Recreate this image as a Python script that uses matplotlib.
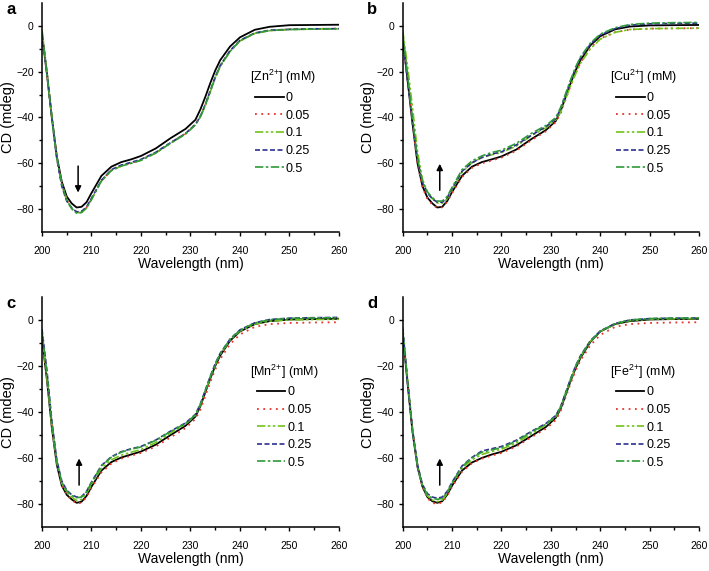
import matplotlib
matplotlib.use("Agg")
import matplotlib.pyplot as plt
from matplotlib.ticker import MultipleLocator

plt.rcParams['font.family'] = ['Liberation Sans', 'DejaVu Sans']
plt.rcParams['mathtext.fontset'] = 'custom'
plt.rcParams['mathtext.rm'] = 'Liberation Sans'

# wavelength grid (nm)
wl = [200, 201, 202, 203, 204, 205, 206, 207, 208, 209, 210, 212, 214, 216, 218, 220,
      223, 226, 229, 231, 232, 233, 234, 235, 236, 238, 240, 243, 246, 250, 255, 260]

conc = ['0', '0.05', '0.1', '0.25', '0.5']

# a: Zn2+
zn_0 = [-3.5, -21, -40, -57, -68, -74.5, -77.5, -79.3, -79, -77, -73, -65.5, -61.5, -59.5, -58.3, -56.8,
        -53.5, -49, -45, -41, -36.5, -31, -25, -19.5, -15, -9, -5, -1.7, -0.4, 0.3, 0.4, 0.5]
zn_005 = [-3, -21, -40.5, -57.5, -69, -76, -79.5, -81.3, -81.2, -79.3, -75.5, -67.5, -63, -61, -59.8, -58.5,
          -55.3, -51, -47, -43, -39.5, -34.5, -28.5, -22.5, -17.5, -11, -6.5, -3.2, -2, -1.5, -1.3, -1.2]
zn_01 = [-1.5, -20, -40, -57.5, -69, -76, -79.8, -81.6, -81.4, -79.5, -75.8, -67.8, -63.2, -61.2, -60, -58.7,
         -55.5, -51.2, -47.2, -43.2, -39.8, -34.8, -28.8, -22.8, -17.8, -11.2, -6.6, -3.3, -2.1, -1.6, -1.4, -1.3]
zn_025 = [-4, -20, -40.5, -58, -70, -76.5, -79.5, -81.2, -81, -79, -75.3, -67.5, -62.8, -60.8, -59.6, -58.3,
          -55.2, -51, -47, -43, -39.5, -34.3, -28.3, -22.3, -17.3, -10.8, -6.3, -3.1, -1.9, -1.5, -1.3, -1.2]
zn_05 = [-2.5, -21, -40, -57.5, -69, -76, -79.8, -81.8, -81.5, -79.6, -75.8, -67.7, -63.2, -61.2, -60, -58.7,
         -55.5, -51.2, -47.2, -43.2, -39.6, -34.6, -28.6, -22.6, -17.6, -11.1, -6.5, -3.2, -2, -1.6, -1.4, -1.3]

# b: Cu2+
cu_0 = [-5, -24, -43, -60, -70, -75, -77.5, -79.3, -79, -76.5, -72.5, -65.5, -61.5, -59.5, -58.3, -57,
        -54, -49.5, -45.5, -41.5, -37, -31, -25, -19.5, -15, -8.5, -4.5, -1.5, -0.3, 0.2, 0.3, 0.4]
cu_005 = [-4, -23, -43, -60, -70.5, -75.5, -78, -79.5, -79.2, -76.8, -73, -66, -62, -60, -58.8, -57.5,
          -54.5, -50, -46, -42, -38, -32, -26, -20.5, -16, -9.5, -5.5, -2.8, -1.6, -1.2, -1.1, -1.0]
cu_01 = [-2, -18, -36, -55, -67, -72.5, -75.5, -77.3, -77.5, -75.5, -71.5, -64, -59.8, -57.5, -56.3, -55.3,
         -52.5, -48, -44.5, -41, -37.5, -31.8, -26, -21, -16.3, -10, -5.8, -2.8, -1.6, -1.2, -1.1, -1.0]
cu_025 = [-6, -24, -42, -58.5, -68.5, -73, -75.5, -77, -77, -75, -71, -63.5, -59.8, -57.5, -56, -55,
          -52, -47.8, -44, -40.5, -36, -30, -24, -18.5, -14, -8, -4, -1.2, 0.3, 0.9, 1.1, 1.2]
cu_05 = [-3, -22, -41, -58, -68, -72.5, -75, -76.5, -76.5, -74.5, -70.5, -62.8, -59, -56.8, -55.3, -54.3,
         -51.3, -47, -43.5, -40, -35.5, -29.5, -23.5, -18, -13.5, -7.5, -3.6, -0.8, 0.6, 1.2, 1.4, 1.5]

# c: Mn2+
mn_0 = [-8, -26, -47, -63, -72, -76, -78, -79.5, -79, -76.5, -72.5, -65.5, -61.8, -59.8, -58.5, -57.2,
        -54.2, -50, -46, -42, -37.5, -31.5, -25.5, -20, -15.5, -9, -5, -1.8, -0.5, 0.2, 0.4, 0.5]
mn_005 = [-7, -25, -46, -62, -71.5, -76, -78.3, -79.8, -79.5, -77, -73, -66.3, -62.5, -60.3, -59, -57.8,
          -55, -51, -47, -43, -39, -33, -27, -21.5, -17, -10.5, -6.3, -3, -1.8, -1.3, -1.1, -1.0]
mn_01 = [-6, -25, -46, -62, -71, -75, -77, -78.5, -78, -75.5, -71.5, -64.5, -60.8, -58.8, -57.5, -56.3,
         -53.3, -49.2, -45.3, -41.5, -37, -31, -25, -19.5, -15, -8.7, -4.8, -1.8, -0.5, 0, 0.2, 0.3]
mn_025 = [-4, -22, -44, -61, -70, -74, -76, -77, -76.8, -74.5, -70.5, -63.3, -59.5, -57.3, -56, -55,
          -52.2, -48.3, -44.8, -41, -36.5, -30.5, -24.5, -19, -14.5, -8.3, -4.3, -1.2, 0.2, 0.8, 1, 1.1]
mn_05 = [-5, -23, -45, -61.5, -70.5, -74.3, -76.3, -77.3, -77, -74.7, -70.7, -63.5, -59.7, -57.5, -56.2, -55.2,
         -52.3, -48.5, -45, -41.2, -36.7, -30.7, -24.7, -19.2, -14.7, -8.4, -4.4, -1.3, 0.1, 0.7, 0.9, 1.0]

# d: Fe2+
fe_0 = [-6, -28, -49, -64, -72.5, -77, -78.8, -79.5, -78.8, -76, -72, -65.5, -62, -60, -58.5, -57.3,
        -54.5, -50.5, -46.5, -42.5, -38.5, -32.5, -26.5, -21, -16.5, -9.5, -5, -1.8, -0.5, 0.2, 0.4, 0.5]
fe_005 = [-5, -27, -48, -63.5, -72.5, -77.5, -79.5, -80, -79.3, -76.5, -72.5, -66, -62.3, -60.3, -59, -57.8,
          -55, -51, -47.3, -43.5, -39.5, -33.5, -27.5, -22, -17.5, -11, -6.5, -3, -1.8, -1.3, -1.1, -1.0]
fe_01 = [-3, -26, -48, -63.5, -72, -76.5, -78.3, -79, -78.3, -75.5, -71, -64.5, -60.8, -58.5, -57.2, -56.2,
         -53.5, -49.5, -45.7, -42, -38, -32, -26, -20.5, -16, -9.3, -5, -1.8, -0.3, 0.3, 0.5, 0.6]
fe_025 = [-4, -27, -48, -63, -71.5, -75.5, -77, -77.5, -77, -74.5, -70.5, -63.5, -59.8, -57, -56, -55,
          -52.3, -48.5, -45, -41.5, -37.5, -31.5, -25.5, -20, -15.5, -9, -4.8, -1.5, 0, 0.6, 0.8, 0.9]
fe_05 = [-5, -27, -48.5, -63.5, -72, -76, -77.5, -78, -77.5, -75, -70.8, -63.8, -60, -57.5, -56.5, -55.5,
         -52.7, -48.8, -45.3, -41.7, -37.7, -31.7, -25.7, -20.2, -15.7, -9.2, -4.9, -1.6, 0, 0.6, 0.8, 0.9]

# line look for each concentration
colors = ['black', '#e8342c', '#72c21b', '#2f2f8f', '#2f9a3a']
styles = ['-', (0, (1, 2.5)), (0, (5, 1.5, 1.5, 1.5, 1.5, 1.5)), (0, (3, 1.5)), (0, (5, 1.5, 1.5, 1.5))]
widths = [1.3, 1.3, 1.2, 1.2, 1.2]

panels = [
    ('a', 'Zn', [zn_0, zn_005, zn_01, zn_025, zn_05], 'down'),
    ('b', 'Cu', [cu_0, cu_005, cu_01, cu_025, cu_05], 'up'),
    ('c', 'Mn', [mn_0, mn_005, mn_01, mn_025, mn_05], 'up'),
    ('d', 'Fe', [fe_0, fe_005, fe_01, fe_025, fe_05], 'up'),
]

positions = [
    [0.0592, 0.5937, 0.4189, 0.4011],
    [0.5680, 0.5937, 0.4180, 0.4011],
    [0.0592, 0.0771, 0.4189, 0.4028],
    [0.5680, 0.0771, 0.4180, 0.4028],
]

fig = plt.figure(figsize=(7.09, 5.71), dpi=100)

for (letter, ion, series, direction), pos in zip(panels, positions):
    ax = fig.add_axes(pos)
    for i in range(5):
        ax.plot(wl, series[i], color=colors[i], linestyle=styles[i], lw=widths[i], label=conc[i])

    ax.set_xlim(200, 260)
    ax.set_ylim(-90, 10)
    ax.xaxis.set_major_locator(MultipleLocator(10))
    ax.xaxis.set_minor_locator(MultipleLocator(5))
    ax.set_yticks([-80, -60, -40, -20, 0])
    ax.set_yticks([-70, -50, -30, -10], minor=True)
    ax.tick_params(which='major', direction='out', length=3, width=1, labelsize=7.5)
    ax.tick_params(axis='x', which='major', pad=7)
    ax.tick_params(axis='y', which='major', pad=3)
    ax.tick_params(which='minor', direction='out', length=2, width=1)
    for s in ['top', 'right']:
        ax.spines[s].set_visible(False)
    for s in ['left', 'bottom']:
        ax.spines[s].set_linewidth(1.1)

    ax.set_xlabel('Wavelength (nm)', fontsize=10, labelpad=1)
    ax.set_ylabel('CD (mdeg)', fontsize=10.5)
    ax.yaxis.set_label_coords(-0.092, 0.5)

    if direction == 'down':
        ax.annotate('', xy=(207.3, -74), xytext=(207.3, -60),
                    arrowprops=dict(arrowstyle='-|>', color='black', lw=1.1, mutation_scale=9))
    else:
        ax.annotate('', xy=(207.5, -59), xytext=(207.5, -73),
                    arrowprops=dict(arrowstyle='-|>', color='black', lw=1.1, mutation_scale=9))

    ax.legend(title='[' + ion + '$^{\\mathregular{2{+}}}$] (mM)', loc='upper left',
              bbox_to_anchor=(0.70, 0.715), frameon=False, fontsize=9, title_fontsize=9,
              handlelength=2.3, handletextpad=0.15, labelspacing=0.45,
              borderpad=0, borderaxespad=0)

    bbox = ax.get_position()
    fig.text(bbox.x0 - 0.05, bbox.y1 - 0.02, letter, fontsize=12, fontweight='bold',
             ha='left', va='baseline')

fig.savefig('out.png', dpi=100)
